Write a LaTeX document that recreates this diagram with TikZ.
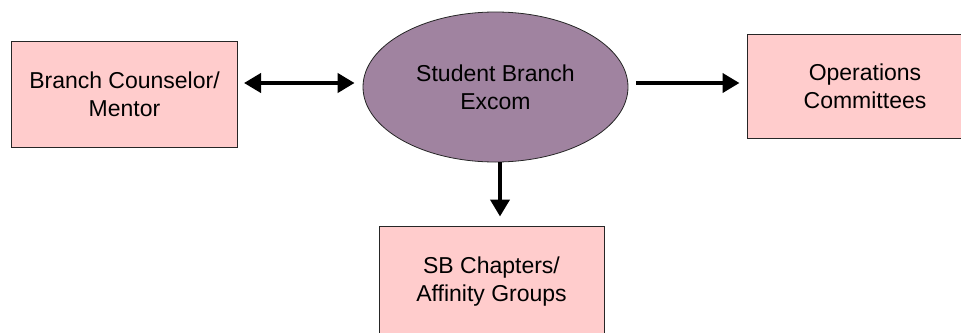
\documentclass[tikz,border=0pt]{standalone}
\definecolor{sbpink}{RGB}{255, 204, 204}
\definecolor{sbmauve}{RGB}{160, 131, 160}
\usepackage{fontspec}
\setmainfont{Liberation Sans}
\usepackage{tikz}
\usetikzlibrary{shapes.geometric, arrows.meta}

\begin{document}
\begin{tikzpicture}[x=1pt, y=-1pt,
      box/.style={draw=black!85, line width=1pt, fill=sbpink, minimum width=226pt,
                  minimum height=104pt, inner sep=0pt, align=center,
                  font=\fontsize{23}{28}\selectfont},
      arrow/.style={-{Triangle[length=17pt, width=19pt]}, line width=4pt, black}
    ]
      \clip (0,0) rectangle (961,332);

      % Excom
      \node[ellipse, draw=black!85, line width=0.8pt, fill=sbmauve, minimum width=265pt,
            minimum height=150pt, inner sep=0pt, align=center,
            font=\fontsize{23}{28}\selectfont] (excom) at (495.5,87) {Student Branch\\Excom};

      % Boites
      \node[box, minimum height=106pt] (mentor) at (124.5,94) {Branch Counselor/\\Mentor};
      \node[box, minimum width=236pt] (ops) at (865,86.5) {Operations\\Committees};
      \node[box, minimum width=225pt, minimum height=112pt] (chapters) at (491.5,282)
        {SB Chapters/\\Affinity Groups};

      % Fleches
      \draw[arrow, {Triangle[length=17pt, width=19pt]}-{Triangle[length=17pt, width=19pt]},
            shorten <=6pt, shorten >=8pt]
        ([yshift=11pt]mentor.east) -- ([yshift=11pt]mentor.east -| excom.west);
      \draw[arrow, shorten <=8pt, shorten >=7pt]
        ([yshift=4pt]excom.east) -- ([yshift=4pt]excom.east -| ops.west);
      \draw[arrow, shorten >=9pt]
        ([xshift=4.5pt]excom.south) -- ([xshift=4.5pt]excom.south |- chapters.north);
\end{tikzpicture}
\end{document}
